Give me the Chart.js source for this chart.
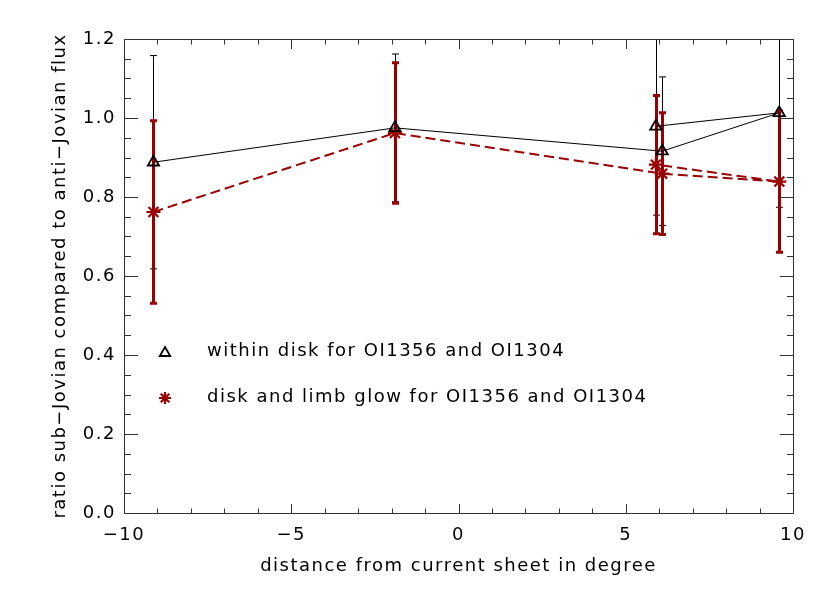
<!DOCTYPE html>
<html>
<head>
<meta charset="utf-8">
<title>ratio sub-Jovian / anti-Jovian</title>
<script src="https://cdn.jsdelivr.net/npm/chart.js"></script>
<style>
    html, body { margin: 0; padding: 0; background: #fff; }
</style>
</head>
<body>
<canvas id="ratio-chart" width="830" height="593"></canvas>

<script>
    // distance from current sheet (deg), in the order the points are joined
    const distance = [-9.12, -1.90, 6.09, 9.59, 5.90];

    // within disk for OI1356 and OI1304 (triangles)
    const diskRatio = [0.888, 0.975, 0.916, 1.013, 0.979];
    const diskErr   = [0.270, 0.187, 0.188, 0.239, 0.225];

    // disk and limb glow for OI1356 and OI1304 (asterisks)
    const glowRatio = [0.762, 0.962, 0.859, 0.839, 0.882];
    const glowErr   = [0.231, 0.178, 0.154, 0.179, 0.175];

    const xTicks = [-10, -5, 0, 5, 10];
    const yTicks = [0.0, 0.2, 0.4, 0.6, 0.8, 1.0, 1.2];
    const seriesLabels = ['within disk for OI1356 and OI1304', 'disk and limb glow for OI1356 and OI1304'];

    const RED = '#990000';
    const FONT = { family: '"DejaVu Sans", sans-serif', size: 18 };

    // letter spacing like the wide plot font
    const spacingPlugin = {
        id: 'spacing',
        beforeDraw(chart) { chart.ctx.letterSpacing = '1.5px'; }
    };

    // error bars, drawn before the lines/symbols
    const errorBarPlugin = {
        id: 'errorBars',
        beforeDatasetsDraw(chart) {
            const ctx = chart.ctx;
            const xs = chart.scales.x, ys = chart.scales.y;
            const area = chart.chartArea;
            ctx.save();
            ctx.beginPath();
            ctx.rect(area.left, area.top, area.right - area.left, area.bottom - area.top);
            ctx.clip();
            chart.data.datasets.forEach(ds => {
                ctx.strokeStyle = ds.borderColor;
                ctx.lineWidth = ds.barWidth;
                ds.data.forEach((p, i) => {
                    const x = Math.round(xs.getPixelForValue(p.x)) + 0.5;
                    const top = ys.getPixelForValue(p.y + ds.errors[i]);
                    const bot = ys.getPixelForValue(p.y - ds.errors[i]);
                    ctx.beginPath();
                    ctx.moveTo(x, top); ctx.lineTo(x, bot);
                    ctx.moveTo(x - 3.5, top); ctx.lineTo(x + 3.5, top);
                    ctx.moveTo(x - 3.5, bot); ctx.lineTo(x + 3.5, bot);
                    ctx.stroke();
                });
            });
            ctx.restore();
        }
    };

    // box round the plot with inward ticks on all four sides
    const framePlugin = {
        id: 'frame',
        afterDatasetsDraw(chart) {
            const ctx = chart.ctx;
            const xs = chart.scales.x, ys = chart.scales.y;
            const l = Math.round(chart.chartArea.left) + 0.5;
            const r = Math.round(chart.chartArea.right) + 0.5;
            const t = Math.round(chart.chartArea.top) + 0.5;
            const b = Math.round(chart.chartArea.bottom) + 0.5;
            ctx.save();
            ctx.strokeStyle = '#333';
            ctx.lineWidth = 1;
            ctx.beginPath();
            ctx.rect(l, t, r - l, b - t);
            for (let v = -10; v <= 10; v++) {
                const x = Math.round(xs.getPixelForValue(v)) + 0.5;
                const len = (v % 5 === 0) ? 9.5 : 5;
                ctx.moveTo(x, b); ctx.lineTo(x, b - len);
                ctx.moveTo(x, t); ctx.lineTo(x, t + len);
            }
            for (let k = 0; k <= 24; k++) {
                const y = Math.round(ys.getPixelForValue(k * 0.05)) + 0.5;
                const len = (k % 4 === 0) ? 13.5 : 6.5;
                ctx.moveTo(l, y); ctx.lineTo(l + len, y);
                ctx.moveTo(r, y); ctx.lineTo(r - len, y);
            }
            ctx.stroke();
            ctx.restore();
        }
    };

    // legend inside the plot: symbol then text
    const legendPlugin = {
        id: 'insideLegend',
        afterDraw(chart) {
            const ctx = chart.ctx;
            ctx.save();
            // triangle
            ctx.strokeStyle = '#000';
            ctx.lineWidth = 1.8;
            ctx.beginPath();
            const tx = 165, ty = 353, tr = 6;
            ctx.moveTo(tx, ty - tr);
            ctx.lineTo(tx + tr * 0.866, ty + tr / 2);
            ctx.lineTo(tx - tr * 0.866, ty + tr / 2);
            ctx.closePath();
            ctx.stroke();
            // asterisk
            const sx = 165, sy = 398, sr = 6, d = sr * 0.7071;
            ctx.strokeStyle = RED;
            ctx.lineWidth = 2.2;
            ctx.beginPath();
            ctx.moveTo(sx - sr, sy); ctx.lineTo(sx + sr, sy);
            ctx.moveTo(sx, sy - sr); ctx.lineTo(sx, sy + sr);
            ctx.moveTo(sx - d, sy - d); ctx.lineTo(sx + d, sy + d);
            ctx.moveTo(sx - d, sy + d); ctx.lineTo(sx + d, sy - d);
            ctx.stroke();
            // labels
            ctx.fillStyle = '#000';
            ctx.font = FONT.size + 'px ' + FONT.family;
            ctx.textAlign = 'left';
            ctx.textBaseline = 'middle';
            ctx.fillText(seriesLabels[0], 207, 351);
            ctx.fillText(seriesLabels[1], 207, 397);
            ctx.restore();
        }
    };

    const ctx = document.getElementById('ratio-chart').getContext('2d');
    const ratioChart = new Chart(ctx, {
        type: 'scatter',
        data: {
            datasets: [
                {
                    label: seriesLabels[0],
                    data: distance.map((x, i) => ({ x: x, y: diskRatio[i] })),
                    errors: diskErr,
                    barWidth: 1,
                    showLine: true,
                    borderColor: '#000',
                    borderWidth: 1,
                    pointStyle: 'triangle',
                    pointRadius: 6.5,
                    pointBorderWidth: 1.8,
                    pointBorderColor: '#000',
                    pointBackgroundColor: 'rgba(0,0,0,0)'
                },
                {
                    label: seriesLabels[1],
                    data: distance.map((x, i) => ({ x: x, y: glowRatio[i] })),
                    errors: glowErr,
                    barWidth: 3,
                    showLine: true,
                    borderColor: RED,
                    borderWidth: 2,
                    borderDash: [10, 5],
                    pointStyle: 'star',
                    pointRadius: 7,
                    pointBorderWidth: 2.2,
                    pointBorderColor: RED,
                    pointBackgroundColor: RED
                }
            ]
        },
        options: {
            responsive: false,
            animation: false,
            devicePixelRatio: 1,
            layout: { padding: { left: 0, right: 37, top: 39, bottom: 0 } },
            plugins: {
                legend: { display: false },
                tooltip: { enabled: false }
            },
            scales: {
                x: {
                    type: 'linear',
                    min: -10,
                    max: 10,
                    afterBuildTicks: s => { s.ticks = xTicks.map(v => ({ value: v })); },
                    afterFit: s => { s.height = 80; },
                    grid: { display: false, drawTicks: false },
                    border: { display: false },
                    ticks: {
                        padding: 12,
                        color: '#000',
                        font: FONT,
                        callback: v => String(v).replace('-', '\u2212')
                    },
                    title: {
                        display: true,
                        text: 'distance from current sheet in degree',
                        color: '#000',
                        font: FONT,
                        padding: { top: 0, bottom: 16 }
                    }
                },
                y: {
                    type: 'linear',
                    min: 0,
                    max: 1.2,
                    afterBuildTicks: s => { s.ticks = yTicks.map(v => ({ value: v })); },
                    afterFit: s => { s.width = 124; },
                    grid: { display: false, drawTicks: false },
                    border: { display: false },
                    ticks: {
                        padding: 8,
                        color: '#000',
                        font: FONT,
                        callback: v => Number(v).toFixed(1)
                    },
                    title: {
                        display: true,
                        text: 'ratio sub\u2212Jovian compared to anti\u2212Jovian flux',
                        color: '#000',
                        font: FONT,
                        padding: { top: 50, bottom: 0 }
                    }
                }
            }
        },
        plugins: [spacingPlugin, errorBarPlugin, framePlugin, legendPlugin]
    });
</script>
</body>
</html>
